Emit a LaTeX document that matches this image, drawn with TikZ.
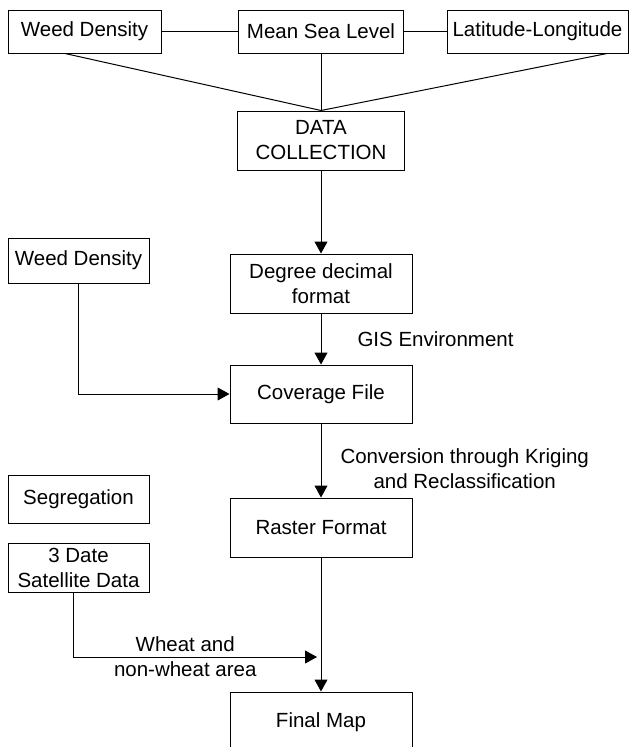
\documentclass[tikz,border=0pt]{standalone}
\usepackage{fontspec}
\setmainfont{Liberation Sans}
\usetikzlibrary{arrows.meta}

\begin{document}
\begin{tikzpicture}[->,>={Triangle[length=12pt,width=13pt]},x=1pt,y=-1pt,
                    line width=1pt,font=\fontsize{20.5}{25}\selectfont]
  \tikzstyle{box}=[draw=black,rectangle,inner sep=0pt,align=center]
  \tikzstyle{lbl}=[inner sep=0pt,align=center]
  \clip (0,0) rectangle (629,747);
  \fill[white] (0,0) rectangle (629,747);

  % inputs
  \node[box,minimum width=153pt,minimum height=43pt] (WD)  at (84.5,31.5)  {Weed Density};
  \node[box,minimum width=165pt,minimum height=43pt] (MSL) at (321,31.5)   {Mean Sea Level};
  \node[box,minimum width=181pt,minimum height=43pt] (LL)  at (537.5,31.5) {Latitude-Longitude};

  % main column
  \node[box,minimum width=167pt,minimum height=59pt] (DC)  at (321,140.5) {DATA\\COLLECTION};
  \node[box,minimum width=182pt,minimum height=59pt] (DDF) at (321,283.5) {Degree decimal\\format};
  \node[box,minimum width=182pt,minimum height=58pt] (CF)  at (321,394)   {Coverage File};
  \node[box,minimum width=182pt,minimum height=59pt] (RF)  at (321,527.5) {Raster Format};
  \node[box,minimum width=182pt,minimum height=60pt] (FM)  at (321,722)   {Final Map};

  % side boxes
  \node[box,minimum width=141pt,minimum height=45pt] (WD2) at (78.5,260.5) {Weed Density};
  \node[box,minimum width=141pt,minimum height=48pt] (SEG) at (78.5,499)   {Segregation};
  \node[box,minimum width=141pt,minimum height=49pt] (SAT) at (78.5,567.5) {3 Date\\Satellite Data};

  \coordinate (WJ) at (317,657);

  \draw[-] (WD) -- (MSL);
  \draw[-] (MSL) -- (LL);
  \draw[-] ([xshift=-19.5pt]WD.south) -- (DC.north);
  \draw[-] (MSL) -- (DC);
  \draw[-] ([xshift=69.5pt]LL.south) -- (DC.north);

  \draw (DC) -- (DDF);
  \draw (DDF) -- node[lbl,right=36pt] {GIS Environment} (CF);
  \draw (CF) -- node[lbl,right=19pt,yshift=-8pt] {Conversion through Kriging\\and Reclassification} (RF);
  \draw (RF) -- (FM);
  \draw (WD2) |- (CF);
  \draw ([xshift=-5.5pt]SAT.south) |- node[lbl,pos=0.73] {Wheat and\\non-wheat area} (WJ);
\end{tikzpicture}
\end{document}
